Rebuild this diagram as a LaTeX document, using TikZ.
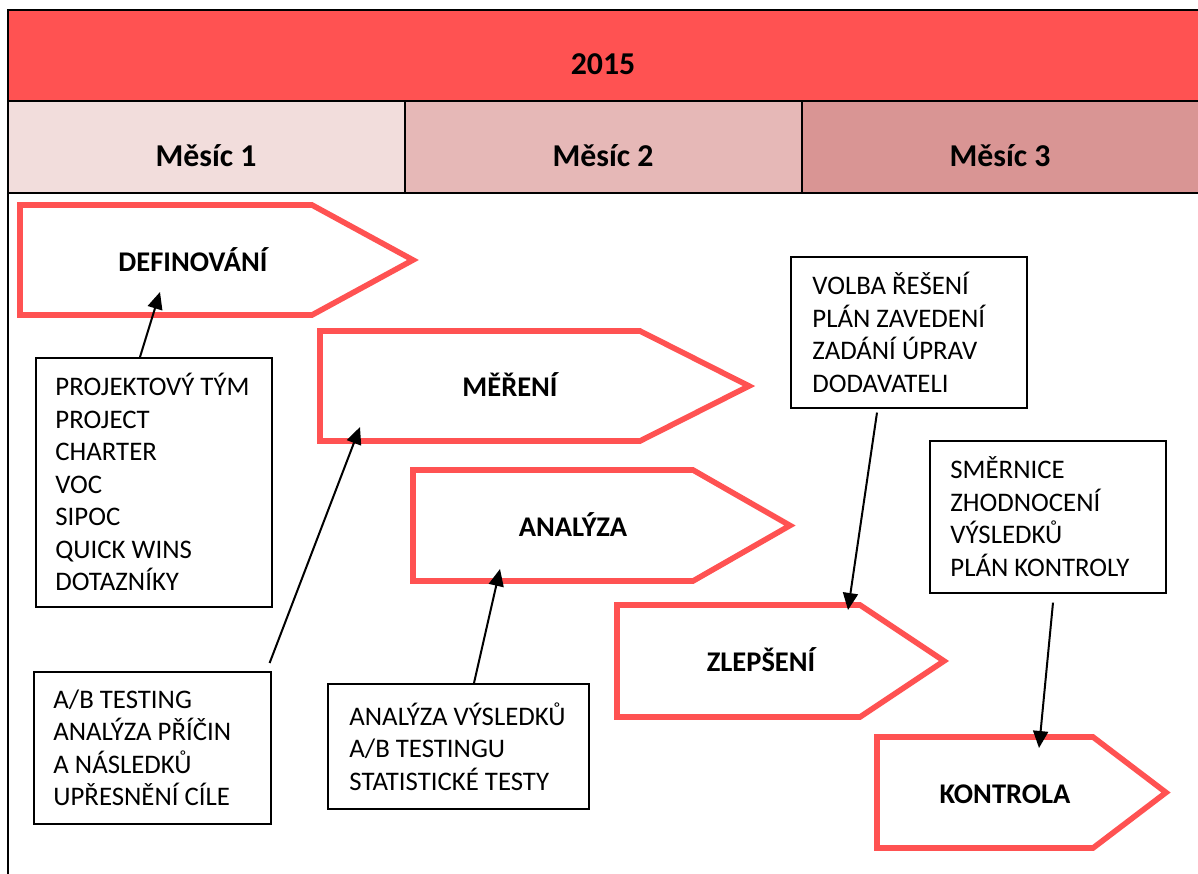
\documentclass[tikz,border=0pt]{standalone}
\usepackage{fontspec}
\setmainfont{Carlito}
\usetikzlibrary{arrows.meta}

\definecolor{phasered}{RGB}{255,82,82}
\definecolor{monthA}{RGB}{242,221,220}
\definecolor{monthB}{RGB}{230,184,183}
\definecolor{monthC}{RGB}{217,149,148}

\begin{document}
\begin{tikzpicture}[x=0.5pt,y=-0.5pt,
  cell/.style={draw=black, line width=1.1pt},
  headtext/.style={font=\fontsize{15.9}{18}\selectfont\bfseries, anchor=base},
  phase/.style={draw=phasered, line width=2.8pt, line join=miter, fill=white},
  phaselabel/.style={font=\fontsize{14.25}{17}\selectfont\bfseries, anchor=base},
  infobox/.style={draw=black, line width=0.8pt, fill=white, anchor=north west, inner sep=0pt},
  infotext/.style={font=\fontsize{13.4}{16.25}\selectfont, align=left, anchor=west, inner sep=0pt},
  link/.style={line width=1pt, -{Triangle[length=8.5pt,width=7.5pt]}}
]
\useasboundingbox (0,0) rectangle (1198,873);
\clip (0,0) rectangle (1198,873);

% header: year band and month cells
\draw[cell, fill=phasered] (8,10) rectangle (1204,101);
\draw[cell, fill=monthA] (8,101) rectangle (405,193);
\draw[cell, fill=monthB] (405,101) rectangle (802,193);
\draw[cell, fill=monthC] (802,101) rectangle (1204,193);
\draw[cell] (8,193) -- (8,880);
\node[headtext] (year) at (603,74) {2015};
\node[headtext] (m1) at (206,166) {Měsíc 1};
\node[headtext] (m2) at (603,166) {Měsíc 2};
\node[headtext] (m3) at (1000,166) {Měsíc 3};

% DMAIC phases as pentagon arrows: left, top, bottom, shoulder, tip
\newcommand\phasearrow[5]{%
  \draw[phase] (#1,#2) -- (#4,#2) -- (#5,{(#2+#3)/2}) -- (#4,#3) -- (#1,#3) -- cycle;}
\phasearrow{20}{205}{315}{312}{413}
\phasearrow{320}{331}{441}{640}{749}
\phasearrow{413}{470}{581}{693}{790}
\phasearrow{617}{605}{717}{860}{944}
\phasearrow{877}{737}{848}{1093}{1166}
\node[phaselabel] (def) at (193,271) {DEFINOVÁNÍ};
\node[phaselabel] (mer) at (510,396) {MĚŘENÍ};
\node[phaselabel] (ana) at (573,536) {ANALÝZA};
\node[phaselabel] (zle) at (761,671) {ZLEPŠENÍ};
\node[phaselabel] (kon) at (1005,803) {KONTROLA};

% arrow targets inside the phases
\coordinate (defIn) at (160,292);
\coordinate (merIn) at (360,427);
\coordinate (anaIn) at (500,569);
\coordinate (zleIn) at (848,610);
\coordinate (konIn) at (1039,748);

% activity boxes
\node[infobox, minimum width=118pt, minimum height=124.5pt] (boxA) at (35,357) {};
\node[infotext] at ([xshift=10pt]boxA.west) {PROJEKTOVÝ TÝM\\PROJECT\\CHARTER\\VOC\\SIPOC\\QUICK WINS\\DOTAZNÍKY};

\node[infobox, minimum width=118.5pt, minimum height=76pt] (boxB) at (33,671) {};
\node[infotext] at ([xshift=10pt]boxB.west) {A/B TESTING\\ANALÝZA PŘÍČIN\\A NÁSLEDKŮ\\UPŘESNĚNÍ CÍLE};

\node[infobox, minimum width=130.5pt, minimum height=62.5pt] (boxC) at (327,683) {};
\node[infotext] at ([xshift=11pt]boxC.west) {ANALÝZA VÝSLEDKŮ\\A/B TESTINGU\\STATISTICKÉ TESTY};

\node[infobox, minimum width=118pt, minimum height=75.5pt] (boxD) at (790,256) {};
\node[infotext] at ([xshift=11pt]boxD.west) {VOLBA ŘEŠENÍ\\PLÁN ZAVEDENÍ\\ZADÁNÍ ÚPRAV\\DODAVATELI};

\node[infobox, minimum width=118pt, minimum height=76pt] (boxE) at (929,440) {};
\node[infotext] at ([xshift=10.5pt]boxE.west) {SMĚRNICE\\ZHODNOCENÍ\\VÝSLEDKŮ\\PLÁN KONTROLY};

% connectors from activities to phases
\draw[link] (boxA.north -| 140,0) -- (defIn);
\draw[link] ([xshift=-1pt,yshift=4pt]boxB.north east) -- (merIn);
\draw[link] (boxC.north -| 474,0) -- (anaIn);
\draw[link] ([yshift=-2pt]boxD.south -| 877,0) -- (zleIn);
\draw[link] ([yshift=-4.5pt]boxE.south -| 1053,0) -- (konIn);
\end{tikzpicture}
\end{document}
